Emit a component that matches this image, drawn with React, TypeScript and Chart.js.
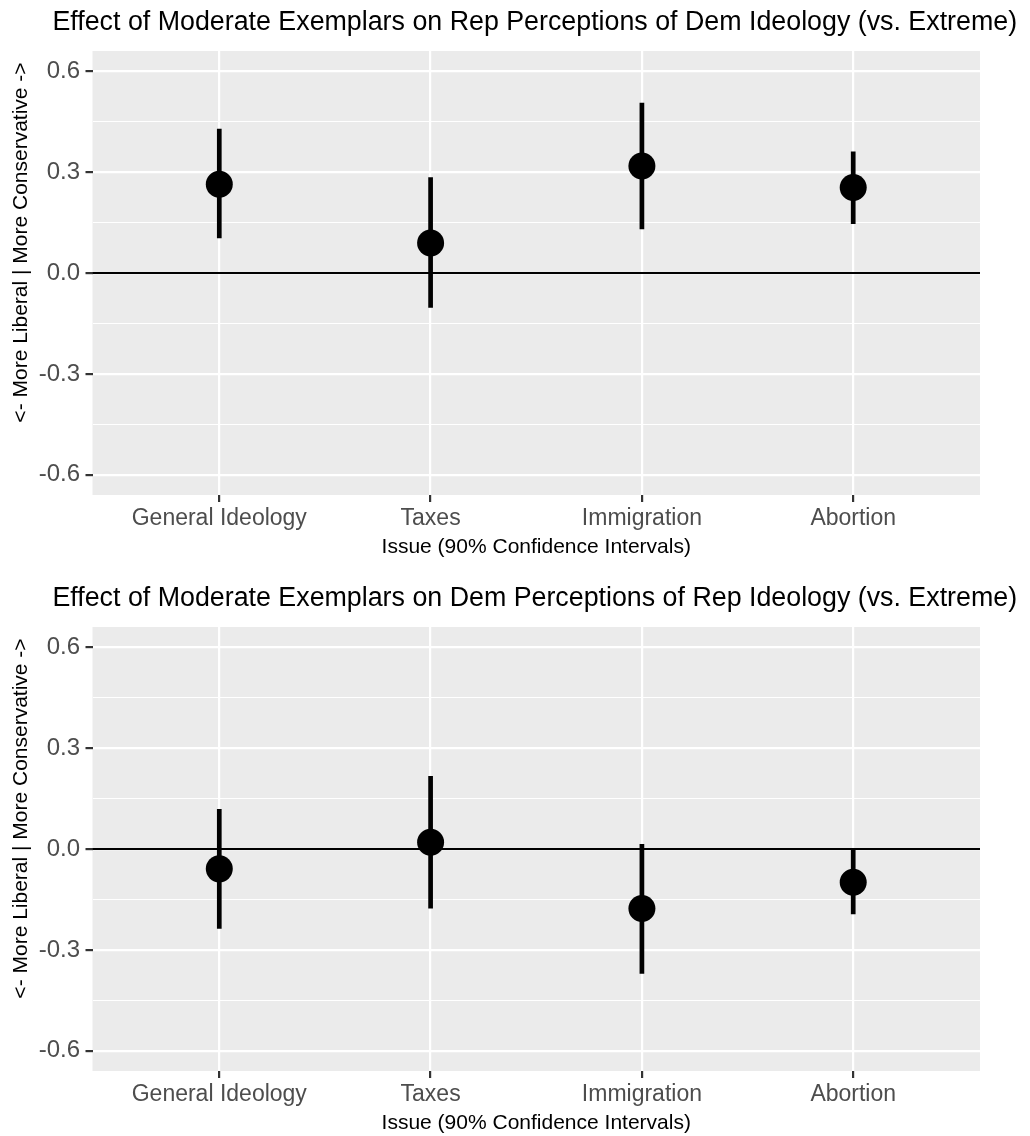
import React, { useEffect, useRef } from "react";
import { Chart, registerables } from "chart.js";

Chart.register(...registerables);

// ---- Data ----
const issues = ["General Ideology", "Taxes", "Immigration", "Abortion"];

const repTitle = "Effect of Moderate Exemplars on Rep Perceptions of Dem Ideology (vs. Extreme)";
const repEst = [0.264, 0.089, 0.318, 0.254];
const repLow = [0.103, -0.103, 0.13, 0.146];
const repHigh = [0.429, 0.285, 0.506, 0.361];

const demTitle = "Effect of Moderate Exemplars on Dem Perceptions of Rep Ideology (vs. Extreme)";
const demEst = [-0.059, 0.02, -0.177, -0.099];
const demLow = [-0.237, -0.177, -0.371, -0.194];
const demHigh = [0.119, 0.217, 0.015, 0.001];

const yMajor = [-0.6, -0.3, 0, 0.3, 0.6];
const yMinor = [-0.45, -0.15, 0.15, 0.45];
const yLimits = [-0.66, 0.66];
const xLimits = [-0.6, 3.6];

const xTitle = "Issue (90% Confidence Intervals)";
const yTitle = "<- More Liberal | More Conservative ->";

const FONT = "'Liberation Sans', Arial, Helvetica, sans-serif";

const bgPlugin = {
  id: "ggBg",
  beforeDraw(chart: any) {
    const { ctx, chartArea } = chart;
    ctx.save();
    ctx.fillStyle = "#EBEBEB";
    ctx.fillRect(chartArea.left, chartArea.top, chartArea.right - chartArea.left, chartArea.bottom - chartArea.top);
    ctx.restore();
  },
};

const titlePlugin = {
  id: "ggTitle",
  afterDraw(chart: any, _args: any, opts: any) {
    const { ctx, chartArea } = chart;
    ctx.save();
    ctx.font = `26.8px ${FONT}`;
    ctx.fillStyle = "#000";
    ctx.textAlign = "center";
    ctx.textBaseline = "alphabetic";
    ctx.fillText(opts.text, (chartArea.left + chartArea.right) / 2 - 1.5, chartArea.top - 20.8);
    // y-axis title (rotated)
    ctx.font = `21px ${FONT}`;
    ctx.textBaseline = "middle";
    ctx.translate(21.2, chartArea.top + 191.5);
    ctx.rotate(-Math.PI / 2);
    ctx.fillText(opts.yText, 0, 0);
    ctx.restore();
  },
};

function Panel({ title, est, low, high, top }: { title: string; est: number[]; low: number[]; high: number[]; top: number }) {
  const ref = useRef<HTMLCanvasElement>(null);
  useEffect(() => {
    const canvas = ref.current!;
    const ciSets = issues.map((_, i) => ({
      type: "line" as const,
      data: [
        { x: i, y: low[i] },
        { x: i, y: high[i] },
      ],
      borderColor: "#000",
      borderWidth: 4.7,
      borderCapStyle: "butt" as const,
      pointRadius: 0,
      showLine: true,
      order: 2,
    }));
    const isMajor = (v: any) => yMajor.includes(v);
    const chart = new Chart(canvas, {
      type: "scatter",
      data: {
        datasets: [
          {
            type: "scatter",
            data: issues.map((_, i) => ({ x: i, y: est[i] })),
            backgroundColor: "#000",
            borderWidth: 0,
            pointRadius: 13.5,
            pointHoverRadius: 13.5,
            order: 1,
          } as any,
          ...ciSets,
          {
            type: "line",
            data: [
              { x: xLimits[0], y: 0 },
              { x: xLimits[1], y: 0 },
            ],
            borderColor: "#000",
            borderWidth: 2,
            pointRadius: 0,
            showLine: true,
            order: 3,
          } as any,
        ],
      },
      options: {
        responsive: false,
        animation: false,
        events: [],
        layout: { padding: { top: 51, left: 0, right: 50, bottom: 0 } },
        plugins: {
          legend: { display: false },
          tooltip: { enabled: false },
          ggTitle: { text: title, yText: yTitle },
        } as any,
        scales: {
          x: {
            type: "linear",
            min: xLimits[0],
            max: xLimits[1],
            afterBuildTicks: (s: any) => {
              s.ticks = issues.map((_, i) => ({ value: i }));
            },
            afterFit: (s: any) => {
              s.height = 65;
            },
            ticks: {
              callback: (v: any) => issues[v] ?? "",
              color: "#4D4D4D",
              font: { family: FONT, size: 23, lineHeight: 1 },
              padding: 5,
              autoSkip: false,
              maxRotation: 0,
              minRotation: 0,
            },
            grid: {
              color: "#FFFFFF",
              lineWidth: 2.2,
              tickColor: "#333333",
              tickLength: 7,
              tickWidth: 2.2,
            },
            border: { display: false },
            title: {
              display: true,
              text: xTitle,
              color: "#000",
              font: { family: FONT, size: 21 },
              padding: { top: 0, bottom: 0 },
            },
          },
          y: {
            type: "linear",
            min: yLimits[0],
            max: yLimits[1],
            afterBuildTicks: (s: any) => {
              s.ticks = [...yMajor, ...yMinor].sort((a, b) => a - b).map((v) => ({ value: v }));
            },
            afterFit: (s: any) => {
              s.width = 92.5;
            },
            ticks: {
              callback: (v: any) => (isMajor(v) ? Number(v).toFixed(1) : ""),
              color: "#4D4D4D",
              font: { family: FONT, size: 24 },
              padding: 5.5,
              autoSkip: false,
            },
            grid: {
              color: "#FFFFFF",
              lineWidth: (c: any) => (c.tick && isMajor(c.tick.value) ? 2.2 : 1.1),
              tickColor: (c: any) => (c.tick && isMajor(c.tick.value) ? "#333333" : "rgba(0,0,0,0)"),
              tickLength: 7,
              tickWidth: 2.2,
            },
            border: { display: false },
            title: { display: false },
          },
        },
      } as any,
      plugins: [bgPlugin, titlePlugin],
    });
    return () => chart.destroy();
  }, [title, est, low, high]);
  return (
    <div style={{ position: "absolute", left: 0, top, width: 1030, height: 560 }}>
      <canvas ref={ref} width={1030} height={560} style={{ display: "block" }} />
    </div>
  );
}

export default function App() {
  return (
    <div style={{ position: "absolute", left: 0, top: 0, width: 1030, height: 1136, background: "#fff", overflow: "hidden" }}>
      <Panel title={repTitle} est={repEst} low={repLow} high={repHigh} top={0} />
      <Panel title={demTitle} est={demEst} low={demLow} high={demHigh} top={576} />
    </div>
  );
}
